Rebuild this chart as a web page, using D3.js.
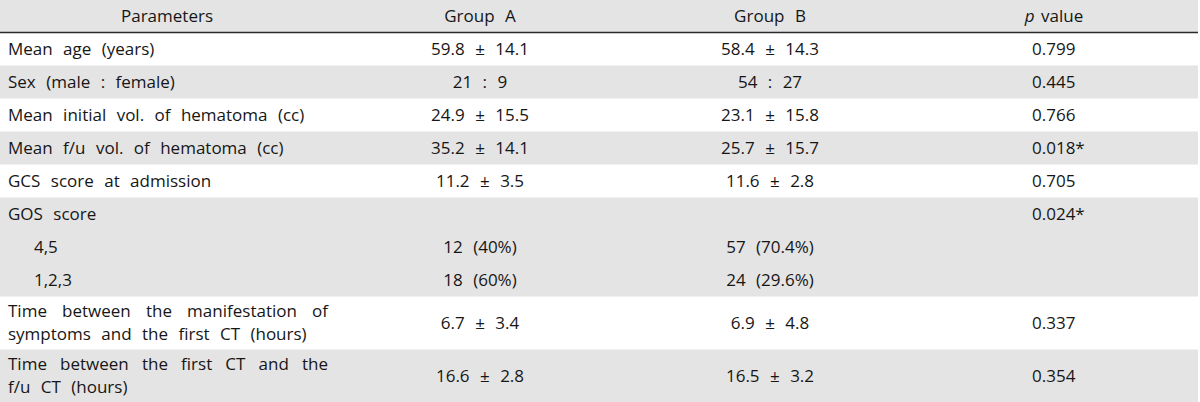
<!DOCTYPE html>
<html>
<head>
<meta charset="utf-8">
<script src="https://cdn.jsdelivr.net/npm/d3@7"></script>
<style>
  html, body { margin: 0; padding: 0; background: #fff; }
  svg text { font-family: "Open Sans", "Noto Sans", sans-serif; font-size: 17px; fill: #161616; word-spacing: 6px; }
</style>
</head>
<body>
<svg id="chart" width="1200" height="402"></svg>
<script>
// ---- data ----
const headers = ["Parameters", "Group A", "Group B", "p value"];
const parameters = [
  "Mean age (years)",
  "Sex (male : female)",
  "Mean initial vol. of hematoma (cc)",
  "Mean f/u vol. of hematoma (cc)",
  "GCS score at admission",
  "GOS score",
  "4,5",
  "1,2,3",
  "Time between the manifestation of symptoms and the first CT (hours)",
  "Time between the first CT and the f/u CT (hours)"
];
const groupA = ["59.8 ± 14.1", "21 : 9", "24.9 ± 15.5", "35.2 ± 14.1", "11.2 ± 3.5", "", "12 (40%)", "18 (60%)", "6.7 ± 3.4", "16.6 ± 2.8"];
const groupB = ["58.4 ± 14.3", "54 : 27", "23.1 ± 15.8", "25.7 ± 15.7", "11.6 ± 2.8", "", "57 (70.4%)", "24 (29.6%)", "6.9 ± 4.8", "16.5 ± 3.2"];
const pValues = ["0.799", "0.445", "0.766", "0.018*", "0.705", "0.024*", "", "", "0.337", "0.354"];
// row grouping (shaded bands) and sub-item flags
const bandOf = [0, 1, 2, 3, 4, 5, 5, 5, 6, 7];
const subItem = [false, false, false, false, false, false, true, true, false, false];

// ---- layout ----
const W = 1200, H = 402;
const svg = d3.select("#chart");
const headerH = 32.5;
const lineH = 33, wrapLineH = 23, wrapPad = 15;
const paramLeft = 8, paramRight = 328, subIndent = 26;

const colX = d3.scaleOrdinal().domain(headers).range([167, 480, 770, 1054]);
const pLeft = 1032;

const bg = svg.append("g");
const txt = svg.append("g");

// measure helper for wrapping
const meas = svg.append("text").attr("x", -1000).attr("y", -1000);
function width(s) { meas.text(s); return meas.node().getComputedTextLength(); }

function wrap(s, maxW) {
  const words = s.split(" ");
  const lines = []; let cur = [];
  words.forEach(w => {
    const test = cur.concat([w]).join(" ");
    if (cur.length && width(test) > maxW) { lines.push(cur); cur = [w]; }
    else cur.push(w);
  });
  if (cur.length) lines.push(cur);
  return lines;
}

// compute rows
const rows = parameters.map((p, i) => {
  const lines = wrap(p, paramRight - paramLeft);
  const h = lines.length === 1 ? lineH : wrapPad * 2 + wrapLineH * (lines.length - 1);
  return { i, p, lines, h };
});
let yCur = headerH;
rows.forEach(r => { r.y0 = yCur; yCur += r.h; r.y1 = yCur; });
const bottomY = yCur;

// band shading
const bands = d3.groups(rows, r => bandOf[r.i]).map(([b, rs]) => ({ b, y0: rs[0].y0, y1: rs[rs.length - 1].y1 }));
bg.append("rect").attr("x", 0).attr("y", 0).attr("width", 1198).attr("height", headerH).attr("fill", "#e4e4e4");
bg.selectAll("rect.band").data(bands.filter(d => d.b % 2 === 1)).join("rect")
  .attr("class", "band")
  .attr("x", 0).attr("y", d => d.y0).attr("width", 1198).attr("height", d => d.y1 - d.y0)
  .attr("fill", "#e4e4e4");

// rules
bg.append("line").attr("x1", 0).attr("x2", 1198).attr("y1", headerH).attr("y2", headerH)
  .attr("stroke", "#2a2a2a").attr("stroke-width", 1.5);
bg.append("line").attr("x1", 0).attr("x2", 1198).attr("y1", bottomY + 0.5).attr("y2", bottomY + 0.5)
  .attr("stroke", "#444").attr("stroke-width", 1.6);

// header
txt.selectAll("text.hd").data(headers).join("text")
  .attr("class", "hd")
  .attr("x", d => colX(d)).attr("y", headerH / 2).attr("dy", "0.35em")
  .attr("text-anchor", "middle")
  .each(function (d) {
    const t = d3.select(this);
    if (d === "p value") {
      t.style("word-spacing", "2px");
      t.append("tspan").attr("font-style", "italic").text("p");
      t.append("tspan").text(" value");
    } else t.text(d);
  });

// parameter cells (wrapped lines as tspans of one text element)
rows.forEach(r => {
  const n = r.lines.length;
  const x = paramLeft + (subItem[r.i] ? subIndent : 0);
  const t = txt.append("text").attr("x", x);
  r.lines.forEach((words, li) => {
    const y = n === 1 ? (r.y0 + r.y1) / 2 : r.y0 + wrapPad + li * wrapLineH;
    const ts = t.append("tspan").attr("x", x).attr("y", y).attr("dy", "0.35em").text(words.join(" "));
    if (n > 1 && li < n - 1 && words.length > 1) {
      const nat = width(words.join(" "));
      const extra = (paramRight - paramLeft - nat) / (words.length - 1);
      ts.style("word-spacing", (6 + extra) + "px");
    }
  });
});

// value cells
function valueColumn(vals, anchor, xPos) {
  txt.append("g").selectAll("text").data(rows).join("text")
    .attr("x", xPos).attr("y", r => (r.y0 + r.y1) / 2).attr("dy", "0.35em")
    .attr("text-anchor", anchor)
    .text(r => vals[r.i]);
}
valueColumn(groupA, "middle", colX("Group A"));
valueColumn(groupB, "middle", colX("Group B"));
valueColumn(pValues, "start", pLeft);
meas.remove();
</script>
</body>
</html>
